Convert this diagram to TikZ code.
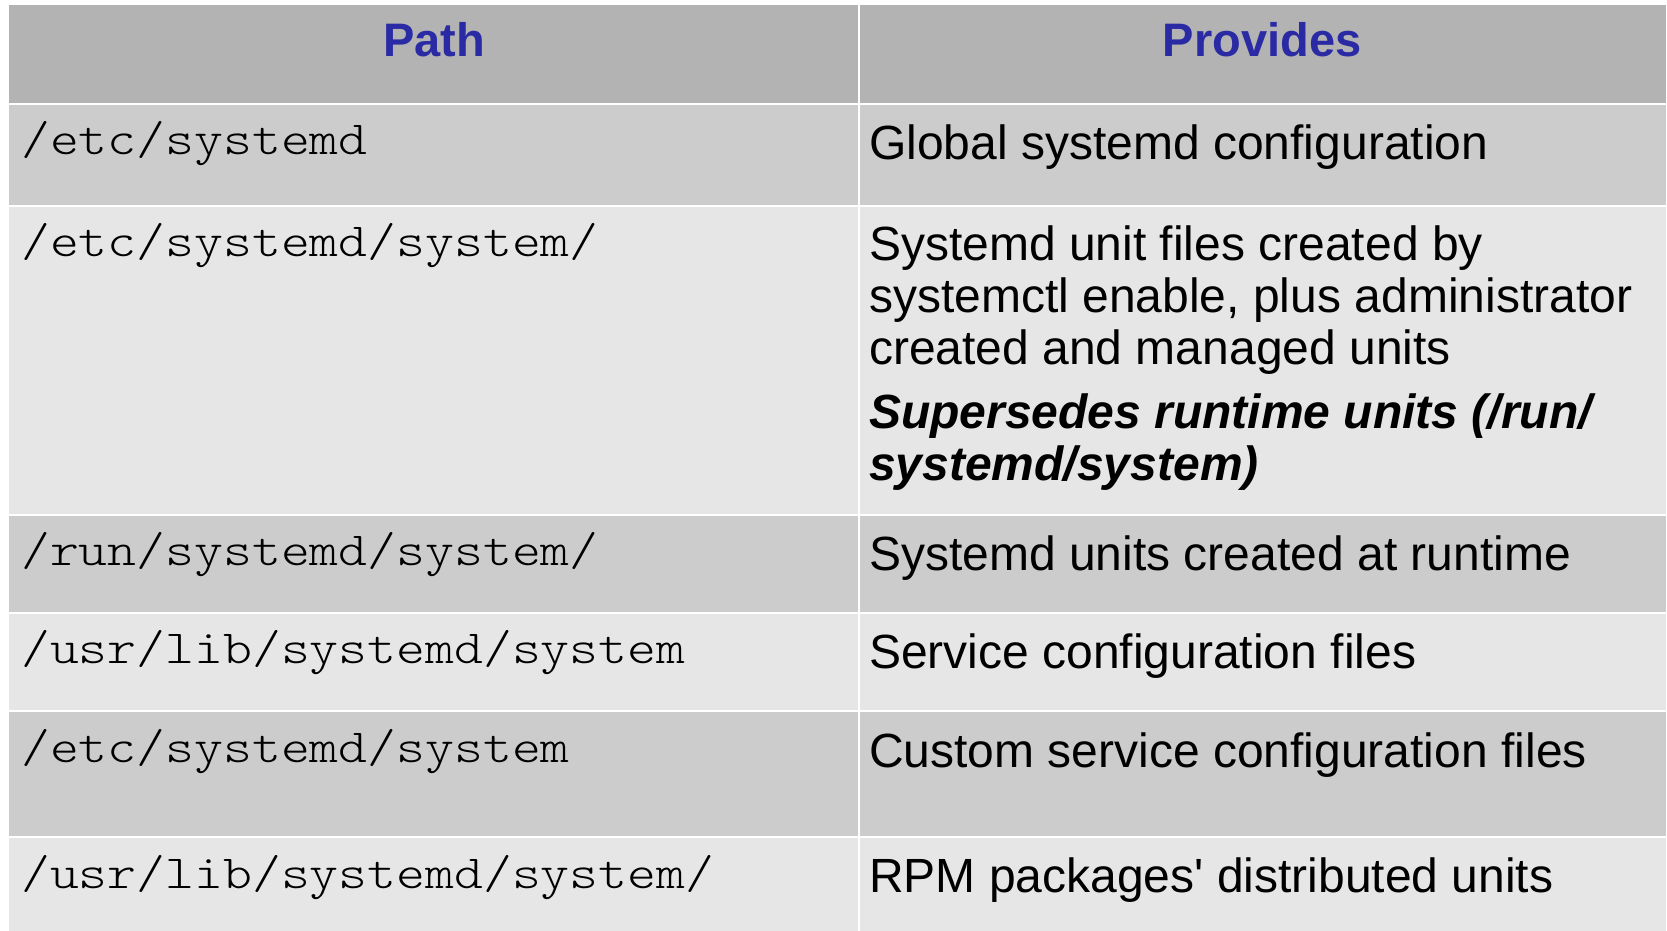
\documentclass[tikz,border=0pt]{standalone}
\usepackage{fontspec}
\setmainfont{Liberation Sans}
\newfontfamily\monofont{lmmonolt10-regular.otf}[FakeStretch=1.158]
\definecolor{hdrgray}{HTML}{B3B3B3}
\definecolor{darkrow}{HTML}{CCCCCC}
\definecolor{lightrow}{HTML}{E6E6E6}
\definecolor{hdrblue}{RGB}{42,42,165}
\tikzset{
  hdr/.style={anchor=base, inner sep=0pt, text=hdrblue, font=\fontsize{47}{52}\selectfont\bfseries},
  pathtxt/.style={anchor=base west, inner sep=0pt, font=\monofont\fontsize{47.5}{52}\selectfont},
  desctxt/.style={anchor=base west, inner sep=0pt, font=\fontsize{48}{52}\selectfont},
  emtxt/.style={anchor=base west, inner sep=0pt, font=\fontsize{48}{52}\selectfont\bfseries\itshape},
  gridline/.style={white, line width=2pt}
}
\begin{document}
\begin{tikzpicture}[x=1pt, y=-1pt]
\useasboundingbox (0,0) rectangle (1667,931);
% row backgrounds
\fill[hdrgray] (9,5) rectangle (1666,104);
\fill[darkrow] (9,104) rectangle (1666,206);
\fill[lightrow] (9,206) rectangle (1666,515);
\fill[darkrow] (9,515) rectangle (1666,613);
\fill[lightrow] (9,613) rectangle (1666,711);
\fill[darkrow] (9,711) rectangle (1666,837);
\fill[lightrow] (9,837) rectangle (1666,931);
% grid lines
\foreach \yy in {104,206,515,613,711,837} \draw[gridline] (9,\yy) -- (1666,\yy);
\draw[gridline] (859,5) -- (859,931);
% header
\node[hdr] (hpath) at (434,57) {Path};
\node[hdr] (hprov) at (1262,57) {Provides};
% row 1
\node[pathtxt] (p1) at (21,154) {/etc/systemd};
\node[desctxt] (d1) at (869,159) {Global systemd configuration};
% row 2
\node[pathtxt] (p2) at (21,256) {/etc/systemd/system/};
\node[desctxt] (d2a) at (869,260) {Systemd unit files created by};
\node[desctxt] (d2b) at (869,312) {systemctl enable, plus administrator};
\node[desctxt] (d2c) at (869,364) {created and managed units};
\node[emtxt] (d2d) at (869,428) {Supersedes runtime units (/run/};
\node[emtxt] (d2e) at (869,480) {systemd/system)};
% row 3
\node[pathtxt] (p3) at (21,565) {/run/systemd/system/};
\node[desctxt] (d3) at (869,570) {Systemd units created at runtime};
% row 4
\node[pathtxt] (p4) at (21,663) {/usr/lib/systemd/system};
\node[desctxt] (d4) at (869,668) {Service configuration files};
% row 5
\node[pathtxt] (p5) at (21,762) {/etc/systemd/system};
\node[desctxt] (d5) at (869,767) {Custom service configuration files};
% row 6
\node[pathtxt] (p6) at (21,888) {/usr/lib/systemd/system/};
\node[desctxt] (d6) at (869,892) {RPM packages\textquotesingle\ distributed units};
\end{tikzpicture}
\end{document}
